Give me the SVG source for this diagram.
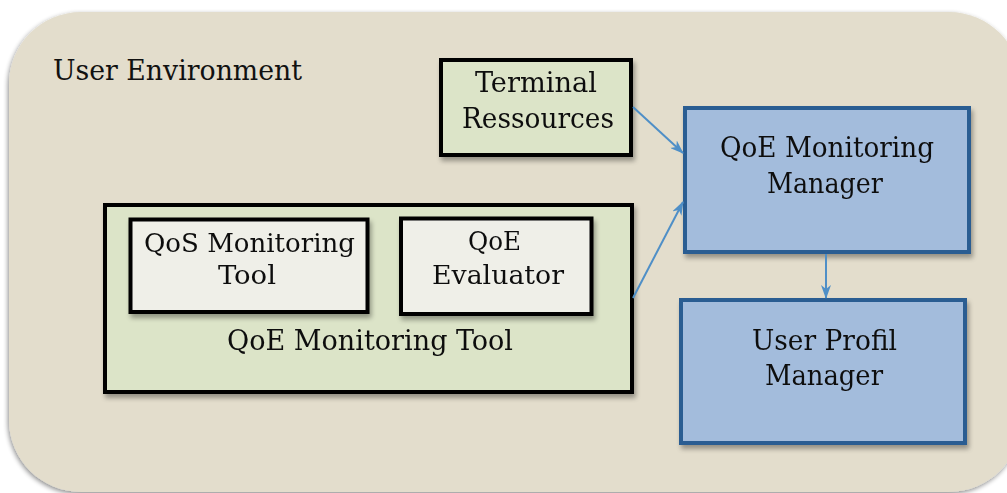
<svg xmlns="http://www.w3.org/2000/svg" width="1007" height="493" viewBox="0 0 1007 493">
  <defs>
    <filter id="bgshadow" x="-5%" y="-5%" width="110%" height="115%">
      <feGaussianBlur in="SourceAlpha" stdDeviation="2.5"/>
      <feOffset dx="-1" dy="2" result="b"/>
      <feComponentTransfer><feFuncA type="linear" slope="0.45"/></feComponentTransfer>
      <feMerge><feMergeNode/><feMergeNode in="SourceGraphic"/></feMerge>
    </filter>
    <filter id="shadow" x="-10%" y="-10%" width="120%" height="130%">
      <feGaussianBlur in="SourceAlpha" stdDeviation="2.5"/>
      <feOffset dx="2" dy="4" result="b"/>
      <feComponentTransfer><feFuncA type="linear" slope="0.35"/></feComponentTransfer>
      <feMerge><feMergeNode/><feMergeNode in="SourceGraphic"/></feMerge>
    </filter>
    <marker id="arrow" viewBox="0 0 14 10" refX="13" refY="5" markerWidth="14" markerHeight="10" markerUnits="userSpaceOnUse" orient="auto">
      <path d="M0,0 L14,5 L0,10 L4,5 Z" fill="#4f8fc7"/>
    </marker>
  </defs>
  <style>
    text { font-family: "DejaVu Serif Condensed", "DejaVu Serif", "Liberation Serif", serif; font-stretch: condensed; fill: #111; }
    .lbl { font-size: 28px; text-anchor: start; }
    .sm { font-size: 26px; }
    .green { fill: #dce4c8; stroke: #000; stroke-width: 4; }
    .light { fill: #efefe8; stroke: #000; stroke-width: 4; }
    .blue { fill: #a3bcdc; stroke: #2c5d92; stroke-width: 4; }
    .conn { stroke: #4f8fc7; stroke-width: 2; fill: none; marker-end: url(#arrow); }
  </style>

  <g id="user-environment">
    <rect x="9" y="12" width="1012" height="480" rx="72" ry="72" fill="#e3ddcc" filter="url(#bgshadow)"/>
    <text class="lbl" x="53" y="80" font-size="26" textLength="249" lengthAdjust="spacingAndGlyphs">User Environment</text>
  </g>

  <g id="terminal-ressources" filter="url(#shadow)">
    <rect class="green" x="441" y="60" width="190" height="95"/>
    <text class="lbl" x="475" y="92" textLength="122" lengthAdjust="spacingAndGlyphs">Terminal</text>
    <text class="lbl" x="462" y="128" textLength="152" lengthAdjust="spacingAndGlyphs">Ressources</text>
  </g>

  <g id="qoe-monitoring-tool" filter="url(#shadow)">
    <rect class="green" x="105" y="205" width="527" height="187"/>
    <text class="lbl" x="227" y="350" textLength="286" lengthAdjust="spacingAndGlyphs">QoE Monitoring Tool</text>
  </g>

  <g id="qos-monitoring-tool" filter="url(#shadow)">
    <rect class="light" x="130.5" y="219.5" width="237" height="92.5"/>
    <text class="lbl sm" x="144" y="252" textLength="211" lengthAdjust="spacingAndGlyphs">QoS Monitoring</text>
    <text class="lbl sm" x="218" y="284" textLength="58" lengthAdjust="spacingAndGlyphs">Tool</text>
  </g>

  <g id="qoe-evaluator" filter="url(#shadow)">
    <rect class="light" x="401" y="218.5" width="190.5" height="95.5"/>
    <text class="lbl sm" x="468" y="250" textLength="53" lengthAdjust="spacingAndGlyphs">QoE</text>
    <text class="lbl sm" x="432" y="284" textLength="132" lengthAdjust="spacingAndGlyphs">Evaluator</text>
  </g>

  <g id="qoe-monitoring-manager" filter="url(#shadow)">
    <rect class="blue" x="685" y="108" width="284" height="144"/>
    <text class="lbl" x="720" y="157" textLength="214" lengthAdjust="spacingAndGlyphs">QoE Monitoring</text>
    <text class="lbl" x="767" y="193" textLength="116" lengthAdjust="spacingAndGlyphs">Manager</text>
  </g>

  <g id="user-profil-manager" filter="url(#shadow)">
    <rect class="blue" x="681" y="300" width="284" height="143"/>
    <text class="lbl" x="752" y="350" textLength="145" lengthAdjust="spacingAndGlyphs">User Profil</text>
    <text class="lbl" x="765" y="385" textLength="118" lengthAdjust="spacingAndGlyphs">Manager</text>
  </g>

  <g id="connectors">
    <line class="conn" x1="633" y1="107" x2="683" y2="153"/>
    <line class="conn" x1="633" y1="298" x2="683" y2="202"/>
    <line class="conn" x1="826" y1="254" x2="826" y2="298"/>
  </g>
</svg>
